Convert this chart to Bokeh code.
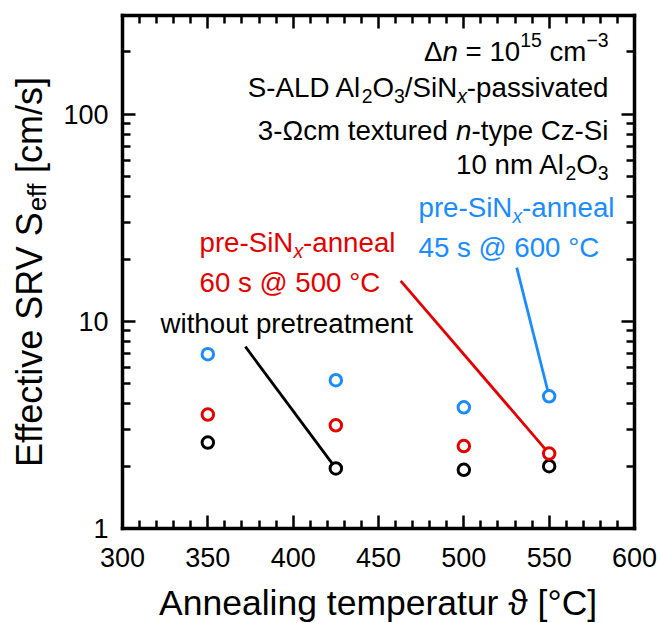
import math

from bokeh.plotting import figure
from bokeh.layouts import row, column
from bokeh.models import Range1d, FixedTicker, LinearAxis, LogAxis, Label
from bokeh.embed import file_html
from bokeh.resources import INLINE

# Effective surface recombination velocity vs. annealing temperature
temperature = [350, 425, 500, 550]
s_without = [2.6, 1.95, 1.92, 2.0]        # without pretreatment
s_pre500 = [3.55, 3.15, 2.5, 2.3]         # pre-SiNx anneal, 60 s @ 500 °C
s_pre600 = [6.95, 5.2, 3.85, 4.35]        # pre-SiNx anneal, 45 s @ 600 °C

x_ticks = [300, 350, 400, 450, 500, 550, 600]
x_minor = [310, 320, 330, 340, 360, 370, 380, 390, 410, 420, 430, 440,
           460, 470, 480, 490, 510, 520, 530, 540, 560, 570, 580, 590]
y_ticks = [1, 10, 100]
y_minor = [2, 3, 4, 5, 6, 7, 8, 9, 20, 30, 40, 50, 60, 70, 80, 90, 200]
y_labels = {1: "1", 10: "10", 100: "100"}

# start points of the leader lines (label side); they end on the last point
leader_without = (372, 7.55)
leader_pre500 = (463, 15.7)
leader_pre600 = (531, 18.2)

BLACK = "#000000"
RED = "#E60000"
BLUE = "#1A8CFF"
FONT = "Liberation Sans"


def text_panel(width, height):
    """Blank panel used to hold an axis title."""
    f = figure(width=width, height=height, output_backend="svg",
               toolbar_location=None, x_range=Range1d(0, width),
               y_range=Range1d(0, height), x_axis_location=None,
               y_axis_location=None, min_border=0)
    f.outline_line_color = None
    f.grid.visible = False
    f.background_fill_color = "white"
    f.border_fill_color = "white"
    return f


p = figure(width=604, height=580, output_backend="svg", toolbar_location=None,
           y_axis_type="log", x_range=Range1d(300, 600), y_range=Range1d(1, 300),
           x_axis_location=None, y_axis_location=None,
           min_border_left=66, min_border_right=26, min_border_top=15,
           min_border_bottom=52)
p.outline_line_color = None
p.grid.visible = False
p.background_fill_color = "white"
p.border_fill_color = "white"

bottom_axis = LinearAxis(ticker=FixedTicker(ticks=x_ticks, minor_ticks=x_minor))
top_axis = LinearAxis(ticker=FixedTicker(ticks=x_ticks, minor_ticks=x_minor))
left_axis = LogAxis(ticker=FixedTicker(ticks=y_ticks, minor_ticks=y_minor),
                    major_label_overrides=y_labels)
right_axis = LogAxis(ticker=FixedTicker(ticks=y_ticks, minor_ticks=y_minor))
p.add_layout(bottom_axis, "below")
p.add_layout(top_axis, "above")
p.add_layout(left_axis, "left")
p.add_layout(right_axis, "right")

for ax in [bottom_axis, left_axis, top_axis, right_axis]:
    ax.axis_line_width = 3.5
    ax.axis_line_cap = "square"
    ax.axis_line_color = BLACK
    ax.major_tick_in = 13
    ax.major_tick_out = 0
    ax.minor_tick_in = 8
    ax.minor_tick_out = 0
    ax.major_tick_line_width = 2.5
    ax.minor_tick_line_width = 2.5
    ax.major_tick_line_color = BLACK
    ax.minor_tick_line_color = BLACK
    ax.major_label_text_font = FONT
    ax.major_label_text_color = BLACK
    ax.major_label_text_font_size = "27px"

# mirrored frame sides carry ticks only
for ax in [top_axis, right_axis]:
    ax.major_label_text_font_size = "1px"
    ax.major_label_text_color = None
    ax.major_label_standoff = 0

bottom_axis.major_label_standoff = 19
left_axis.major_label_standoff = 14

# leader lines from the labels to the curves
p.line([leader_without[0], temperature[1]], [leader_without[1], s_without[1]],
       line_color=BLACK, line_width=2.8)
p.line([leader_pre500[0], temperature[3]], [leader_pre500[1], s_pre500[3]],
       line_color=RED, line_width=2.8)
p.line([leader_pre600[0], temperature[3]], [leader_pre600[1], s_pre600[3]],
       line_color=BLUE, line_width=2.8)

for ys, col in [(s_without, BLACK), (s_pre500, RED), (s_pre600, BLUE)]:
    p.scatter(temperature, ys, marker="circle", size=11.5, line_width=3,
              line_color=col, fill_color="white")

# Arial / Liberation Sans advance widths (per 1000 em)
W = {" ": 278, "-": 333, "/": 278, "=": 584, "@": 1015, "\u00b0": 400,
     "[": 278, "]": 278, "A": 667, "C": 722, "D": 722, "E": 667, "L": 556,
     "N": 722, "O": 778, "R": 722, "S": 667, "V": 667, "\u0394": 668,
     "\u03a9": 768, "\u2212": 584, "\u03d1": 600, "a": 556, "c": 500,
     "d": 556, "e": 556, "f": 278, "g": 556, "h": 556, "i": 222, "l": 222,
     "m": 833, "n": 556, "o": 556, "p": 556, "r": 333, "s": 500, "t": 278,
     "u": 556, "v": 500, "w": 722, "x": 500, "y": 500, "z": 500}
SMALL = 0.7
BASELINE_FIX = 0.37   # lifts the drawn baseline onto the anchor (em units)


def text_width(txt, fs):
    return sum(W.get(ch, 556) for ch in txt) * fs / 1000.0


def rich_text(fig, segments, sx, sy, size, color, align="left", angle=0.0,
              sub_drop=0.31, sup_rise=0.39):
    """Lay out a line made of normal, italic, subscript and superscript runs.

    (sx, sy) is the baseline anchor in screen units of the figure's frame.
    """
    sizes = [size * (SMALL if kind in ("sub", "sup", "subi") else 1.0)
             for _, kind in segments]
    widths = [text_width(t, fs) for (t, _), fs in zip(segments, sizes)]
    total = sum(widths)
    pos = {"left": 0.0, "right": -total, "center": -total / 2.0}[align]
    for (txt, kind), fs, w in zip(segments, sizes, widths):
        lead = len(txt) - len(txt.lstrip(" "))
        shown = txt.strip(" ")
        along = pos + lead * W[" "] * fs / 1000.0
        shift = BASELINE_FIX * size
        if kind == "sup":
            shift += sup_rise * size
        elif kind in ("sub", "subi"):
            shift -= sub_drop * size
        if angle == 0.0:
            x, y = sx + along, sy + shift
        else:
            x, y = sx - shift, sy + along
        fig.add_layout(Label(x=x, y=y, x_units="screen", y_units="screen",
                             text=shown, angle=angle, text_align="left",
                             text_baseline="alphabetic", text_font=FONT,
                             text_font_size=f"{fs:.1f}px",
                             text_font_style="italic" if kind in ("i", "subi") else "normal",
                             text_color=color))
        pos += w


ANN = 27.7
rich_text(p, [("\u0394", "n"), ("n", "i"), (" = 10", "n"), ("15", "sup"),
              (" cm", "n"), ("\u22123", "sup")], 486, 467, ANN, BLACK, "right")
rich_text(p, [("S-ALD Al", "n"), ("2", "sub"), ("O", "n"), ("3", "sub"),
              ("/SiN", "n"), ("x", "subi"), ("-passivated", "n")],
          486, 431, ANN, BLACK, "right")
rich_text(p, [("3-\u03a9cm textured ", "n"), ("n", "i"), ("-type Cz-Si", "n")],
          486, 388, ANN, BLACK, "right")
rich_text(p, [("10 nm Al", "n"), ("2", "sub"), ("O", "n"), ("3", "sub")],
          486, 354, ANN, BLACK, "right")

rich_text(p, [("pre-SiN", "n"), ("x", "subi"), ("-anneal", "n")], 296, 311, ANN, BLUE)
rich_text(p, [("45 s @ 600 \u00b0C", "n")], 296, 271, ANN, BLUE)

rich_text(p, [("pre-SiN", "n"), ("x", "subi"), ("-anneal", "n")], 77, 276, ANN, RED)
rich_text(p, [("60 s @ 500 \u00b0C", "n")], 77, 236, ANN, RED)

rich_text(p, [("without pretreatment", "n")], 38, 195, ANN, BLACK)

# y-axis title (rotated, with subscript) in a narrow panel on the left
ytitle = text_panel(56, 623)
rich_text(ytitle, [("Effective SRV S", "n"), ("eff", "sub"), (" [cm/s]", "n")],
          42, 351.5, 36, BLACK, "center", angle=math.pi / 2, sub_drop=0.23)

# x-axis title in a strip under the plot (its frame lines up with the plot's)
xtitle = text_panel(604, 43)
rich_text(xtitle, [("Annealing temperatur \u03d1 [\u00b0C]", "n")],
          256.5, 7, 35.5, BLACK, "center")

layout = row(ytitle, column(p, xtitle, spacing=0), spacing=0)

open("out.html", "w").write(file_html(layout, INLINE))
